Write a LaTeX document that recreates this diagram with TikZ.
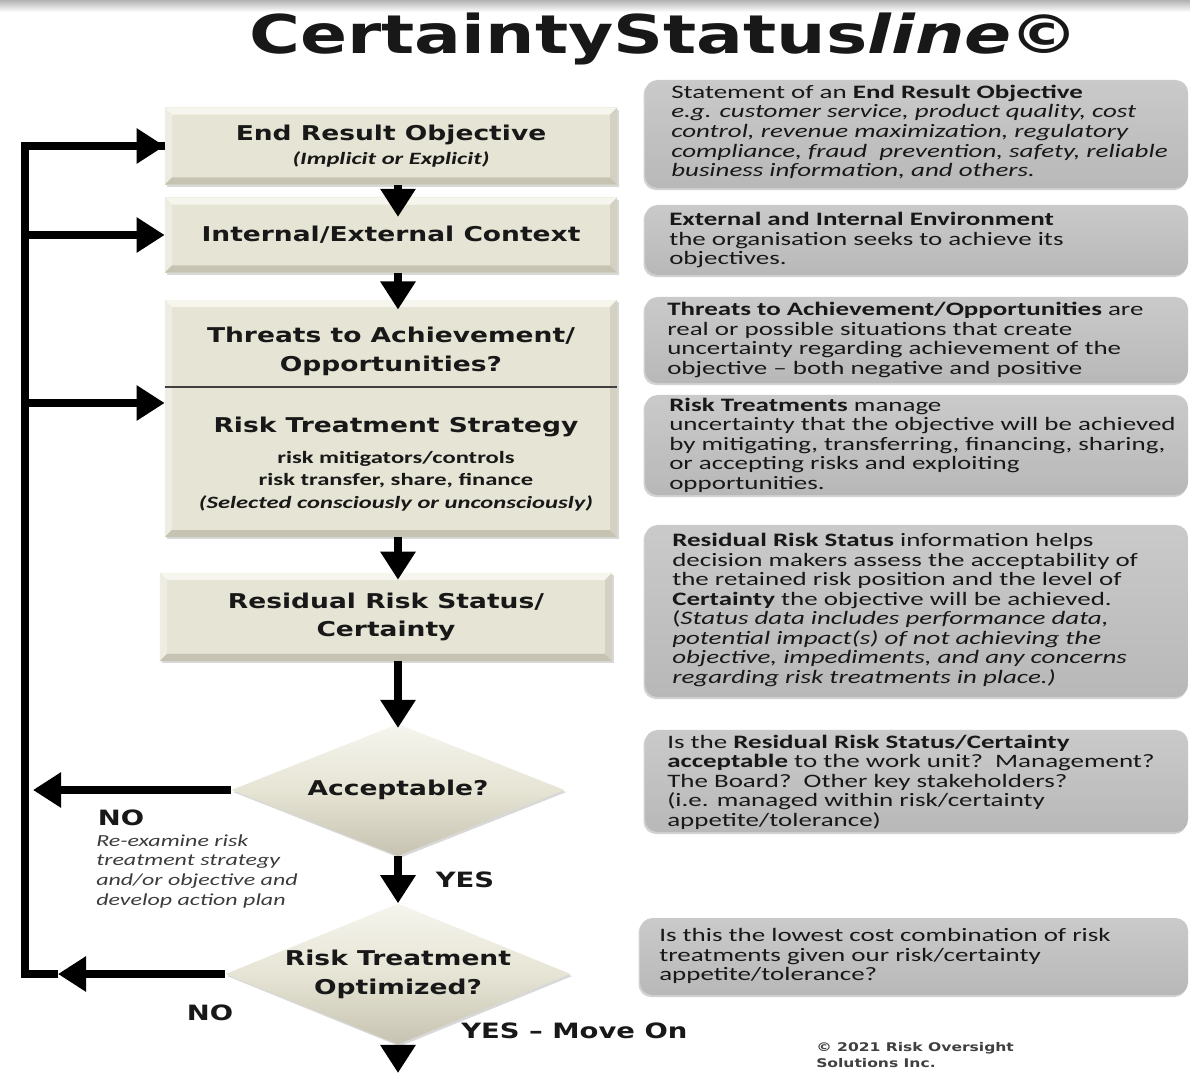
\documentclass[tikz,border=0pt]{standalone}
\usepackage{fontspec}
\setmainfont{Carlito}[FakeStretch=1.42]
\newfontfamily\vfont{DejaVu Sans}[FakeStretch=1.3,BoldFont={DejaVu Sans Bold},ItalicFont={DejaVu Sans Oblique},BoldItalicFont={DejaVu Sans Bold Oblique}]
\usepackage{tikz}
\usetikzlibrary{shapes.geometric,arrows.meta,shadows}

\definecolor{beige}{RGB}{230,228,212}
\definecolor{beigelt}{RGB}{246,245,238}
\definecolor{beigemd}{RGB}{238,237,228}
\definecolor{beigedk}{RGB}{198,195,178}
\definecolor{beigerd}{RGB}{212,209,194}
\definecolor{descgray}{RGB}{184,184,184}
\definecolor{desclt}{RGB}{202,202,202}
\definecolor{txt}{RGB}{24,24,24}
\definecolor{notetxt}{RGB}{60,60,60}

\newcommand{\subfont}{\normalfont\bfseries\fontsize{12.3}{15}\selectfont}
\newcommand{\descfont}{\normalfont\fontsize{13.5}{13.9}\selectfont}

\tikzset{bevel/.style={path picture={
  \fill[beigelt] (path picture bounding box.north west) -- (path picture bounding box.north east)
    -- ([shift={(-5pt,-5pt)}]path picture bounding box.north east) -- ([shift={(5pt,-5pt)}]path picture bounding box.north west) -- cycle;
  \fill[beigemd] (path picture bounding box.north west) -- ([shift={(5pt,-5pt)}]path picture bounding box.north west)
    -- ([shift={(5pt,5pt)}]path picture bounding box.south west) -- (path picture bounding box.south west) -- cycle;
  \fill[beigedk] (path picture bounding box.south west) -- ([shift={(5pt,5pt)}]path picture bounding box.south west)
    -- ([shift={(-5pt,5pt)}]path picture bounding box.south east) -- (path picture bounding box.south east) -- cycle;
  \fill[beigerd] (path picture bounding box.south east) -- ([shift={(-5pt,5pt)}]path picture bounding box.south east)
    -- ([shift={(-5pt,-5pt)}]path picture bounding box.north east) -- (path picture bounding box.north east) -- cycle;
}}}

\begin{document}
\begin{tikzpicture}[x=0.025cm,y=-0.025cm,
  every node/.style={text=txt},
  stepbox/.style={rectangle,fill=beige,minimum width=11.3cm,inner sep=0,align=center,
    font=\vfont\bfseries\fontsize{14.5}{20.5}\selectfont,bevel,
    drop shadow={shadow xshift=1.2pt,shadow yshift=-1.5pt,opacity=.3}},
  decision/.style={diamond,aspect=2.45,inner sep=0,minimum width=8.325cm,minimum height=3.3cm,
    top color=beigelt,bottom color=beigedk,middle color=beige,align=center,
    font=\vfont\bfseries\fontsize{14.5}{20.5}\selectfont,
    drop shadow={shadow xshift=1.2pt,shadow yshift=-1.5pt,opacity=.3}},
  descbox/.style={rectangle,rounded corners=9pt,top color=desclt,bottom color=descgray,
    minimum width=13.575cm,inner sep=0,
    drop shadow={shadow xshift=-1pt,shadow yshift=-1.5pt,opacity=.35}},
  desc/.style={align=left,anchor=west,inner sep=0,font=\descfont},
  flow/.style={line width=5pt,-{Triangle[length=20pt,width=24pt]}},
  loopline/.style={line width=5pt,line join=miter},
  lbl/.style={inner sep=0,font=\vfont\bfseries\fontsize{15}{18}\selectfont},
]
\useasboundingbox (0,0) rectangle (1190,1073);
\fill[white] (0,0) rectangle (1190,1073);
\shade[top color=black!30,bottom color=white] (0,0) rectangle (1190,12);

\node[anchor=base,inner sep=0,font=\vfont\bfseries\fontsize{38}{40}\selectfont] (ttl) at (664,53)
  {CertaintyStatus\textit{line}\kern-2pt©};

% flow chart
\node[stepbox,minimum height=1.925cm] (ero) at (391,146)
  {End Result Objective\\[-3pt]{\subfont\itshape (Implicit or Explicit)}};
\node[stepbox,minimum height=1.875cm] (ctx) at (391,235) {Internal/External Context};
\node[stepbox,minimum height=5.925cm] (thrbox) at (391,418.5) {};
\node[align=center,inner sep=0,font=\vfont\bfseries\fontsize{14.5}{20.5}\selectfont] (thr) at (391,351)
  {Threats to Achievement/\\Opportunities?};
\coordinate (mid) at (391,387);
\draw[line width=1.2pt,black!75] (thrbox.west |- mid) -- (thrbox.east |- mid);
\node[align=center,inner sep=0,font=\vfont\bfseries\fontsize{14.5}{20.5}\selectfont] (rts) at (396,464)
  {Risk Treatment Strategy\\[2pt]{\subfont risk mitigators/controls}\\[-5pt]{\subfont risk transfer, share, finance}\\[-4pt]{\subfont\itshape (Selected consciously or unconsciously)}};
\node[stepbox,minimum height=2.2cm] (rrs) at (386,617) {Residual Risk Status/\\Certainty};
\node[decision] (acc) at (398,790) {Acceptable?};
\node[decision,minimum height=3.2cm] (opt) at (398,974) {Risk Treatment\\Optimized?};
\coordinate (out) at (398,1073);

\draw[flow,shorten >=-14pt] (ero.south -| acc) -- (ctx.north -| acc);
\draw[flow,shorten >=-7pt] (ctx.south -| acc) -- (thrbox.north -| acc);
\draw[flow,shorten >=-5pt] (thrbox.south -| acc) -- (rrs.north -| acc);
\draw[flow,shorten >=-3pt] (rrs.south -| acc) -- (acc.north);
\draw[flow] (acc) -- (opt);
\draw[flow] (opt) -- (out);

% feedback loop
\coordinate (acc-no) at (33,790);
\coordinate (opt-no) at (58,974);
\coordinate (lb) at (25,974);
\coordinate (lt) at (25,146);
\coordinate (rtsin) at (25,403);
\draw[flow] (acc) -- (acc-no);
\draw[flow] (opt) -- (opt-no);
\draw[loopline] (opt-no) -- (lb) -- (lt) -- (ero.west);
\draw[flow] (lt) -- (ero.west);
\draw[flow] (lt |- ctx) -- (ctx.west);
\draw[flow] (rtsin) -- (thrbox.west |- rtsin);

\node[lbl] (no1) at (121,818) {NO};
\node[anchor=north west,align=left,inner sep=0,text=notetxt,font=\normalfont\itshape\fontsize{12}{14}\selectfont] (no1-t) at (96,834)
  {Re-examine risk\\treatment strategy\\and/or objective and\\develop action plan};
\node[lbl] (yes1) at (465,880) {YES};
\node[lbl] (no2) at (210,1013) {NO};
\node[lbl,anchor=west] (yes2) at (461,1031) {YES \textendash{} Move On};
\node[anchor=north west,align=left,inner sep=0,text=black!75,font=\vfont\bfseries\fontsize{8.5}{11.5}\selectfont] (copy) at (816,1042)
  {© 2021 Risk Oversight\\Solutions Inc.};

% descriptions
\node[descbox,minimum height=2.7cm] (ero-d) at (916.5,134) {};
\node[desc] (ero-t) at (671,132) {Statement of an \textbf{End Result Objective}\\
  \textit{e.g. customer service, product quality, cost}\\
  \textit{control, revenue maximization, regulatory}\\
  \textit{compliance, fraud\ \ prevention, safety, reliable}\\
  \textit{business information, and others.}};
\node[descbox,minimum height=1.75cm] (ctx-d) at (916.5,240) {};
\node[desc] (ctx-t) at (669,240) {\textbf{External and Internal Environment}\\
  the organisation seeks to achieve its\\objectives.};
\node[descbox,minimum height=2.15cm] (thr-d) at (916.5,340) {};
\node[desc] (thr-t) at (667,340) {\textbf{Threats to Achievement/Opportunities} are\\
  real or possible situations that create\\
  uncertainty regarding achievement of the\\
  objective \textendash{} both negative and positive};
\node[descbox,minimum height=2.5cm] (rts-d) at (916.5,445) {};
\node[desc] (rts-t) at (669,445) {\textbf{Risk Treatments} manage\\
  uncertainty that the objective will be achieved\\
  by mitigating, transferring, financing, sharing,\\
  or accepting risks and exploiting\\opportunities.};
\node[descbox,minimum height=4.3cm] (rrs-d) at (916.5,611) {};
\node[desc] (rrs-t) at (672,610) {\textbf{Residual Risk Status} information helps\\
  decision makers assess the acceptability of\\
  the retained risk position and the level of\\
  \textbf{Certainty} the objective will be achieved.\\
  (\textit{Status data includes performance data,}\\
  \textit{potential impact(s) of not achieving the}\\
  \textit{objective, impediments, and any concerns}\\
  \textit{regarding risk treatments in place.)}};
\node[descbox,minimum height=2.55cm] (acc-d) at (916.5,781) {};
\node[desc] (acc-t) at (667,782) {Is the \textbf{Residual Risk Status/Certainty}\\
  \textbf{acceptable} to the work unit?\ \ Management?\\
  The Board?\ \ Other key stakeholders?\\
  (i.e. managed within risk/certainty\\appetite/tolerance)};
\node[descbox,minimum width=13.7cm,minimum height=1.925cm] (opt-d) at (914,956.5) {};
\node[desc] (opt-t) at (659,956) {Is this the lowest cost combination of risk\\
  treatments given our risk/certainty\\appetite/tolerance?};
\end{tikzpicture}
\end{document}
